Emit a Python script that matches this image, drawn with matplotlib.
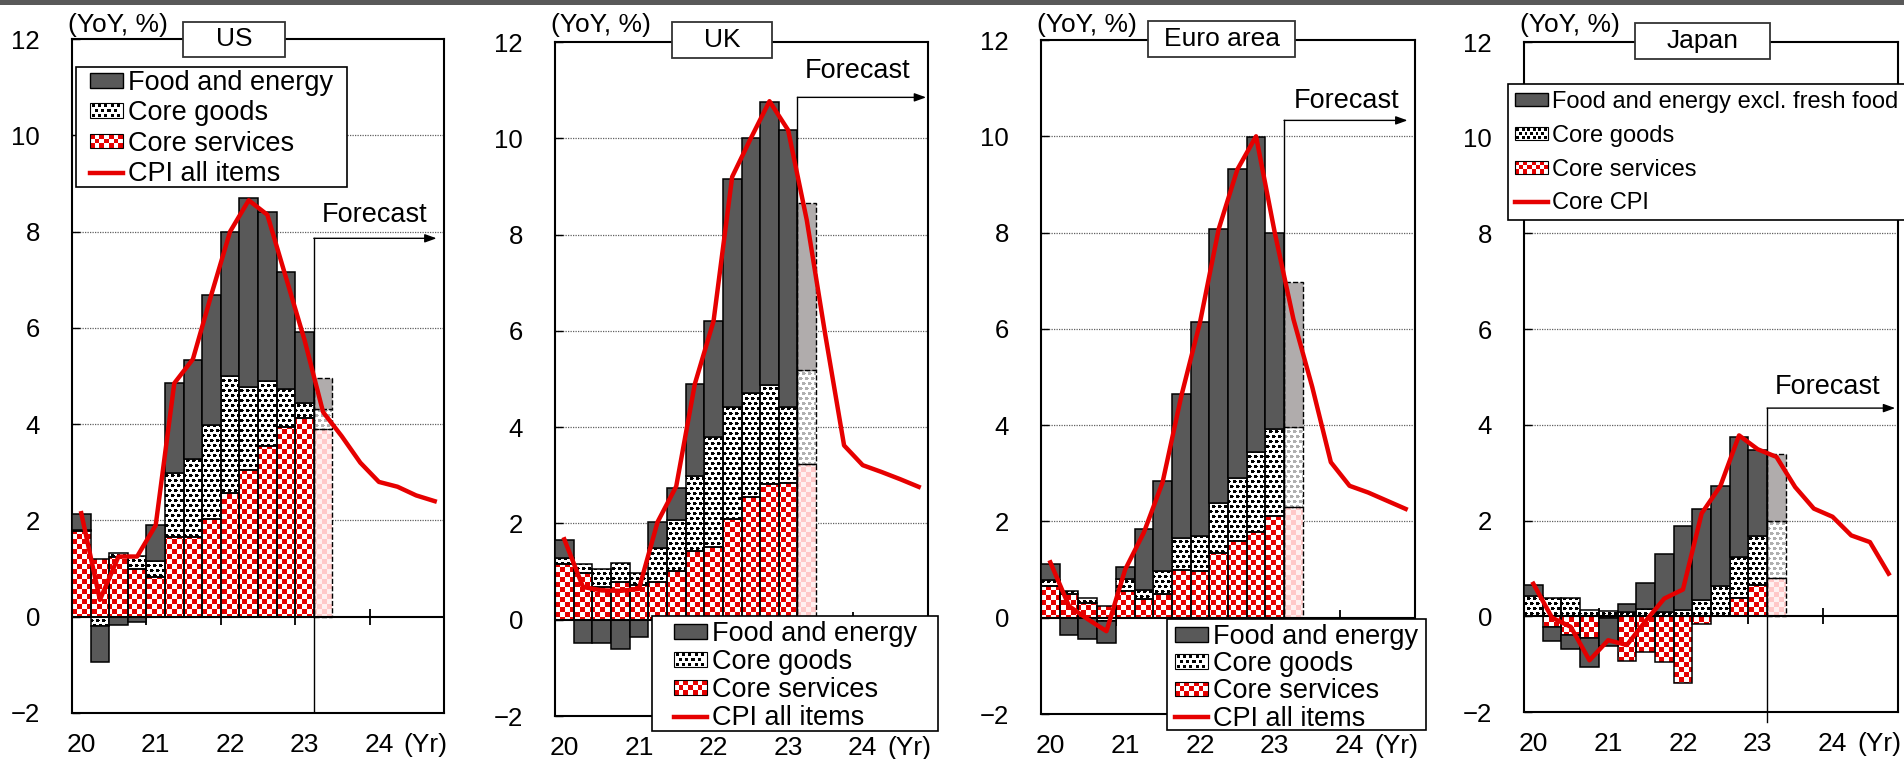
import numpy as np
import matplotlib
matplotlib.use("Agg")
import matplotlib.pyplot as plt
from matplotlib.patches import Rectangle, Patch
from matplotlib.lines import Line2D
from matplotlib.path import Path
from matplotlib.legend_handler import HandlerBase

plt.rcParams['font.family'] = ['Liberation Sans', 'DejaVu Sans']

# ---------------- data ----------------
n_quarters = 20          # 2020Q1 .. 2024Q4
n_bars = 14              # 2020Q1 .. 2023Q2 (last one is forecast)
n_actual = 13
year_labels = ['20', '21', '22', '23', '24', '(Yr)']
year_label_pos = [0.5, 4.5, 8.5, 12.5, 16.5, 19.0]

us_core_services = [1.79, 1.20, 1.25, 0.99, 0.82, 1.66, 1.66, 2.04, 2.58, 3.04, 3.54, 3.95, 4.13, 3.90]
us_core_goods = [0.02, -0.19, 0.07, 0.28, 0.33, 1.32, 1.62, 1.94, 2.42, 1.73, 1.36, 0.78, 0.30, 0.42]
us_food_energy = [0.33, -0.76, -0.18, -0.12, 0.75, 1.88, 2.06, 2.71, 2.99, 3.92, 3.50, 2.43, 1.48, 0.63]
us_cpi = [2.15, 0.35, 1.25, 1.25, 1.90, 4.85, 5.35, 6.70, 8.00, 8.65, 8.35, 7.05, 5.75, 4.25,
          3.75, 3.20, 2.80, 2.70, 2.52, 2.40]

uk_core_services = [1.16, 0.98, 0.68, 0.78, 0.73, 0.78, 1.01, 1.43, 1.52, 2.10, 2.54, 2.81, 2.83, 3.23]
uk_core_goods = [0.12, 0.17, 0.38, 0.40, 0.25, 0.70, 1.06, 1.56, 2.28, 2.32, 2.17, 2.07, 1.59, 1.95]
uk_food_energy = [0.37, -0.48, -0.48, -0.60, -0.35, 0.54, 0.67, 1.90, 2.40, 4.73, 5.29, 5.88, 5.76, 3.48]
uk_cpi = [1.67, 0.68, 0.61, 0.60, 0.64, 2.03, 2.77, 4.90, 6.20, 9.20, 10.00, 10.77, 10.17, 8.30,
          5.90, 3.62, 3.21, 3.07, 2.92, 2.76]

ea_core_services = [0.66, 0.49, 0.30, 0.24, 0.56, 0.38, 0.49, 0.99, 0.97, 1.34, 1.60, 1.78, 2.12, 2.31]
ea_core_goods = [0.12, 0.07, 0.10, -0.07, 0.25, 0.19, 0.48, 0.67, 0.73, 1.04, 1.30, 1.67, 1.80, 1.66]
ea_food_energy = [0.33, -0.36, -0.45, -0.45, 0.25, 1.27, 1.86, 2.99, 4.45, 5.69, 6.43, 6.53, 4.08, 3.00]
ea_cpi = [1.15, 0.24, -0.03, -0.28, 1.00, 1.77, 2.81, 4.60, 6.13, 8.07, 9.31, 10.00, 8.00, 6.20,
          4.80, 3.23, 2.74, 2.60, 2.43, 2.26]

jp_core_services = [0.00, -0.22, -0.40, -0.45, -0.03, -0.93, -0.75, -0.95, -1.39, -0.17, 0.00, 0.39, 0.65, 0.79]
jp_core_goods = [0.43, 0.38, 0.39, 0.14, 0.12, 0.08, 0.15, 0.08, 0.13, 0.35, 0.63, 0.85, 1.03, 1.20]
jp_food_energy = [0.23, -0.30, -0.28, -0.62, -0.60, 0.18, 0.55, 1.22, 1.76, 1.89, 2.10, 2.51, 1.80, 1.41]
jp_core_cpi = [0.68, -0.03, -0.22, -0.92, -0.50, -0.60, -0.10, 0.37, 0.56, 2.15, 2.72, 3.78, 3.49, 3.33,
               2.70, 2.25, 2.08, 1.69, 1.55, 0.89]

labels_main = ['Food and energy', 'Core goods', 'Core services', 'CPI all items']
labels_japan = ['Food and energy excl. fresh food', 'Core goods', 'Core services', 'Core CPI']

# ---------------- style ----------------
W, H = 1904, 759
RED = '#e60000'
DARK = '#595959'
FC_GRAY = '#b0acac'

panels = [
    dict(name='US', data=(us_core_services, us_core_goods, us_food_energy, us_cpi), labels=labels_main,
         ax=(72, 39, 444, 713), title=(183, 22, 285, 57), frame=(76, 67, 347, 187), anchor=(90, 70),
         lfs=19.5, lspace=0.16, hlen=1.22, arrow_y=7.86, arrow_end=19.6, ftext=(13.44, 8.34), vbot=-1.95),
    dict(name='UK', data=(uk_core_services, uk_core_goods, uk_food_energy, uk_cpi), labels=labels_main,
         ax=(555, 42, 928, 716), title=(672, 22, 772, 58), frame=(652, 616, 938, 731), anchor=(674, 621),
         lfs=19.5, lspace=0.075, hlen=1.22, arrow_y=10.85, arrow_end=19.9, ftext=(13.4, 11.4), vbot=-2.0),
    dict(name='Euro area', data=(ea_core_services, ea_core_goods, ea_food_energy, ea_cpi), labels=labels_main,
         ax=(1041, 40, 1415, 714), title=(1148, 21, 1295, 57), frame=(1167, 619, 1426, 730), anchor=(1175, 624),
         lfs=19.5, lspace=0.045, hlen=1.22, arrow_y=10.33, arrow_end=19.6, ftext=(13.5, 10.73), vbot=-2.0),
    dict(name='Japan', data=(jp_core_services, jp_core_goods, jp_food_energy, jp_core_cpi), labels=labels_japan,
         ax=(1524, 42, 1898, 712), title=(1635, 23, 1770, 59), frame=(1508, 84, 1915, 220), anchor=(1515, 91),
         lfs=17, lspace=0.5, hlen=1.4, arrow_y=4.35, arrow_end=19.85, ftext=(13.4, 4.8), vbot=-2.2),
]


def hex2rgb(c):
    return np.array(matplotlib.colors.to_rgb(c))


def texture(kind, w, h, forecast):
    yy, xx = np.mgrid[0:h, 0:w]
    img = np.ones((h, w, 3))
    if kind == 'checker':
        on = hex2rgb('#ffc8c8' if forecast else RED)
        off = hex2rgb('#fff0f0' if forecast else '#ffffff')
        mask = ((xx // 5) + (yy // 5)) % 2 == 0
        img[:] = off
        img[mask] = on
    else:
        dot = hex2rgb('#b0b0b0' if forecast else '#000000')
        shift = ((yy // 5) % 2) * 3
        mask = (((xx + shift) % 6) < 3) & ((yy % 5) < 3)
        mask |= (((xx + shift) % 6) == 3) & ((yy % 5) == 1)
        img[mask] = dot
    return img


class TextureHandler(HandlerBase):
    def __init__(self, kind):
        super().__init__()
        self.kind = kind

    def create_artists(self, legend, orig_handle, xdescent, ydescent, width, height, fontsize, trans):
        x0, y0 = -xdescent, -ydescent
        arts = [Rectangle((x0, y0), width, height, facecolor='white', edgecolor='none', transform=trans)]
        if self.kind == 'checker':
            nrow = 3
            ch = height / nrow
            ncol = max(1, int(round(width / ch)))
            cw = width / ncol
            for i in range(ncol):
                for j in range(nrow):
                    if (i + j) % 2 == 0:
                        arts.append(Rectangle((x0 + i * cw, y0 + j * ch), cw, ch, facecolor=RED,
                                              edgecolor='none', transform=trans))
        else:
            nrow = 3
            py = height / nrow
            d = py * 0.65
            px = py * 1.3
            for j in range(nrow):
                yy = y0 + j * py + (py - d) / 2
                xx = x0 + (j % 2) * px / 2 + (px - d) / 2
                while xx + d <= x0 + width:
                    arts.append(Rectangle((xx, yy), d, d, facecolor='black', edgecolor='none', transform=trans))
                    xx += px
        arts.append(Rectangle((x0, y0), width, height, facecolor='none', edgecolor='black', lw=0.8, transform=trans))
        return arts


def stack(components):
    n = len(components[0])
    pos = np.zeros(n)
    neg = np.zeros(n)
    out = []
    for comp in components:
        comp = np.asarray(comp, dtype=float)
        bottom = np.where(comp >= 0, pos, neg)
        out.append(bottom.copy())
        pos = np.where(comp >= 0, pos + comp, pos)
        neg = np.where(comp < 0, neg + comp, neg)
    return out


def clip_image(ax, bars, img):
    paths = [p.get_path().transformed(p.get_patch_transform()) for p in bars if abs(p.get_height()) > 1e-9]
    if not paths:
        return
    cp = Path.make_compound_path(*paths)
    im = ax.imshow(img, extent=(0, n_quarters, -2, 12), origin='upper', interpolation='nearest',
                   aspect='auto', zorder=2)
    im.set_clip_path(cp, transform=ax.transData)


def fig_rect(x0, y0, x1, y1, **kw):
    return Rectangle((x0 / W, 1 - y1 / H), (x1 - x0) / W, (y1 - y0) / H, transform=fig.transFigure, **kw)


fig = plt.figure(figsize=(W / 100, H / 100), dpi=100)

# top band
fig.add_artist(fig_rect(0, 0, W, 5, facecolor=DARK, edgecolor='none', zorder=1))

for p in panels:
    l, t, r, b = p['ax']
    ax = fig.add_axes([l / W, 1 - b / H, (r - l) / W, (b - t) / H])
    cs, cg, fe, cpi = p['data']
    bot_cs, bot_cg, bot_fe = stack([cs, cg, fe])
    xs = np.arange(n_bars)
    act = xs < n_actual
    fc = ~act

    wpx = int(round(ax.bbox.width))
    hpx = int(round(ax.bbox.height))

    # gridlines and zero line
    for yv in [2, 4, 6, 8, 10]:
        ax.axhline(yv, color='#606060', lw=0.9, ls=(0, (1, 1)), zorder=1)
    ax.axhline(0, color='black', lw=1.5, zorder=3.5)
    ax.vlines([4, 8, 12, 16], -0.17, 0.17, color='black', lw=1.3, zorder=1.5)

    cs = np.asarray(cs); cg = np.asarray(cg); fe = np.asarray(fe)
    # actual bars
    b_cs = ax.bar(xs[act], cs[act], width=1, bottom=bot_cs[act], align='edge', facecolor='none',
                  edgecolor='black', lw=1.1, zorder=3)
    b_cg = ax.bar(xs[act], cg[act], width=1, bottom=bot_cg[act], align='edge', facecolor='none',
                  edgecolor='black', lw=1.1, zorder=3)
    ax.bar(xs[act], fe[act], width=1, bottom=bot_fe[act], align='edge', facecolor=DARK,
           edgecolor='black', lw=1.1, zorder=3)
    clip_image(ax, b_cs, texture('checker', wpx, hpx, False))
    clip_image(ax, b_cg, texture('dots', wpx, hpx, False))
    # forecast bars
    f_cs = ax.bar(xs[fc], cs[fc], width=1, bottom=bot_cs[fc], align='edge', facecolor='none',
                  edgecolor='black', lw=1.0, ls='--', zorder=3)
    f_cg = ax.bar(xs[fc], cg[fc], width=1, bottom=bot_cg[fc], align='edge', facecolor='none',
                  edgecolor='black', lw=1.0, ls='--', zorder=3)
    ax.bar(xs[fc], fe[fc], width=1, bottom=bot_fe[fc], align='edge', facecolor=FC_GRAY,
           edgecolor='black', lw=1.0, ls='--', zorder=3)
    clip_image(ax, f_cs, texture('checker', wpx, hpx, True))
    clip_image(ax, f_cg, texture('dots', wpx, hpx, True))

    # CPI line
    ax.plot(np.arange(n_quarters) + 0.5, cpi, color=RED, lw=3.2, zorder=5, solid_joinstyle='round')

    # forecast marker
    ay = p['arrow_y']
    ax.plot([n_actual, n_actual], [ay, p['vbot']], color='black', lw=1.0, zorder=4, clip_on=False)
    ax.annotate('', xy=(p['arrow_end'], ay), xytext=(n_actual, ay),
                arrowprops=dict(arrowstyle='-|>,head_length=0.5,head_width=0.18', color='black', lw=1.0,
                                mutation_scale=14, shrinkA=0, shrinkB=0), zorder=4)
    ax.text(p['ftext'][0], p['ftext'][1], 'Forecast', fontsize=19.5, ha='left', va='center', zorder=6)

    ax.set_xlim(0, n_quarters)
    ax.set_ylim(-2, 12)
    ax.set_yticks(range(-2, 13, 2))
    ax.tick_params(axis='y', direction='in', length=6, width=1, labelsize=18.5, pad=23)
    ax.set_xticks(year_label_pos, year_labels)
    ax.tick_params(axis='x', length=0, labelsize=19, pad=14.5)
    for s in ax.spines.values():
        s.set_linewidth(1.5)
        s.set_color('black')

    # (YoY, %)
    fig.text((l - 4) / W, 1 - 25 / H, '(YoY, %)', fontsize=19, ha='left', va='center')

    # title box
    tx0, ty0, tx1, ty1 = p['title']
    fig.add_artist(fig_rect(tx0, ty0, tx1, ty1, facecolor='white', edgecolor='#333333', lw=1.3, zorder=1))
    fig.text((tx0 + tx1) / 2 / W, 1 - (ty0 + ty1) / 2 / H, p['name'], fontsize=19, ha='center', va='center',
             zorder=3)

    # legend frame + legend
    fx0, fy0, fx1, fy1 = p['frame']
    fig.add_artist(fig_rect(fx0, fy0, fx1, fy1, facecolor='white', edgecolor='black', lw=1.2, zorder=1))
    h_fe = Patch(facecolor=DARK, edgecolor='black', lw=1)
    h_cg = Patch(facecolor='white', edgecolor='black')
    h_cs = Patch(facecolor='white', edgecolor='black')
    h_cpi = Line2D([], [], color=RED, lw=3.2)
    fig.legend([h_fe, h_cg, h_cs, h_cpi], p['labels'], loc='upper left',
               bbox_to_anchor=(p['anchor'][0] / W, 1 - p['anchor'][1] / H), bbox_transform=fig.transFigure,
               frameon=False, borderpad=0, borderaxespad=0, handlelength=p['hlen'], handleheight=0.45,
               handletextpad=0.18, labelspacing=p['lspace'], fontsize=p['lfs'],
               handler_map={h_cg: TextureHandler('dots'), h_cs: TextureHandler('checker')})

fig.savefig('out.png', dpi=100)
